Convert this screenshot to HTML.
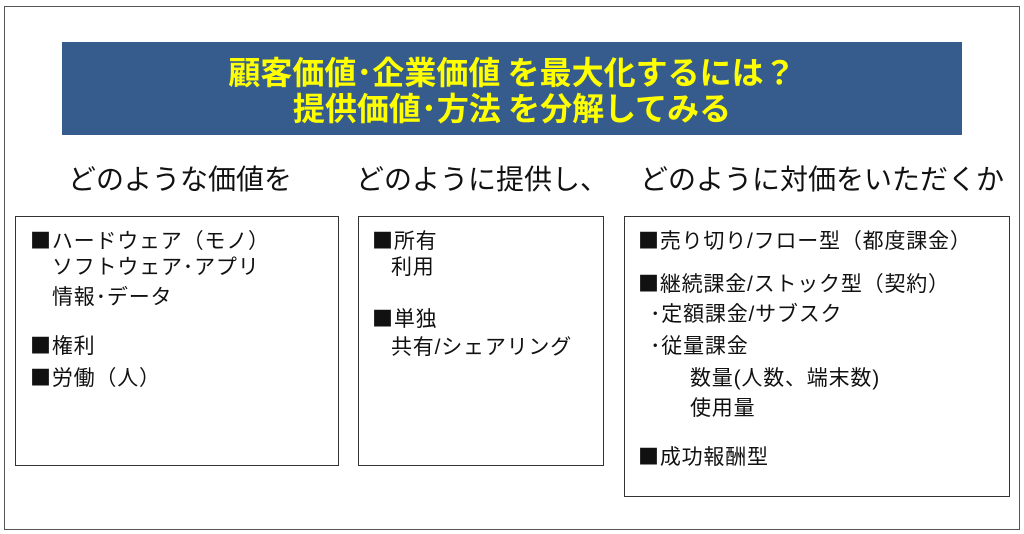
<!DOCTYPE html>
<html><head><meta charset="utf-8"><style>
body{margin:0;width:1024px;height:534px;background:#fff;position:relative;overflow:hidden;font-family:"Liberation Sans","Noto Sans CJK JP",sans-serif;color:#111}
.a{position:absolute;white-space:nowrap}
.box{position:absolute;border:1.5px solid #333;box-sizing:border-box}
.t{position:absolute;font-size:21px;line-height:24px;white-space:nowrap;letter-spacing:0.8px}
.h{position:absolute;font-size:28px;line-height:34px;white-space:nowrap;transform:translateX(-50%)}
.s{font-family:"Noto Sans CJK JP",sans-serif}
</style></head><body>
<div class="box" style="left:4px;top:6px;width:1016px;height:524px;border-color:#555"></div>
<div class="a" style="left:62px;top:42px;width:900px;height:93px;background:#355c8c"></div>
<div class="a" style="left:62px;top:53px;width:900px;text-align:center;color:#ffff00;font-weight:bold;font-size:32px;line-height:36px;font-family:'Noto Sans CJK JP',sans-serif">顧客価値･企業価値 を最大化するには？<br>提供価値･方法 を分解してみる</div>
<div class="h" style="left:180px;top:163px">どのような価値を</div>
<div class="h" style="left:482px;top:163px">どのように提供し、</div>
<div class="h" style="left:822px;top:163px">どのように対価をいただくか</div>
<div class="box" style="left:15px;top:216px;width:324px;height:250px"></div>
<div class="box" style="left:358px;top:216px;width:246px;height:250px"></div>
<div class="box" style="left:624px;top:216px;width:386px;height:281px"></div>
<div class="t" style="left:30px;top:228px"><span class="s">■</span>ハードウェア（モノ）</div>
<div class="t" style="left:52px;top:256px">ソフトウェア･アプリ</div>
<div class="t" style="left:52px;top:286px">情報･データ</div>
<div class="t" style="left:30px;top:333px"><span class="s">■</span>権利</div>
<div class="t" style="left:30px;top:365px"><span class="s">■</span>労働（人）</div>
<div class="t" style="left:372px;top:228px"><span class="s">■</span>所有</div>
<div class="t" style="left:391px;top:256px">利用</div>
<div class="t" style="left:372px;top:306px"><span class="s">■</span>単独</div>
<div class="t" style="left:391px;top:336px">共有/シェアリング</div>
<div class="t" style="left:638px;top:228px"><span class="s">■</span>売り切り/フロー型（都度課金）</div>
<div class="t" style="left:638px;top:271px"><span class="s">■</span>継続課金/ストック型（契約）</div>
<div class="t" style="left:650px;top:303px">･定額課金/サブスク</div>
<div class="t" style="left:650px;top:335px">･従量課金</div>
<div class="t" style="left:690px;top:367px">数量(人数、端末数)</div>
<div class="t" style="left:690px;top:397px">使用量</div>
<div class="t" style="left:638px;top:444px"><span class="s">■</span>成功報酬型</div>
</body></html>
